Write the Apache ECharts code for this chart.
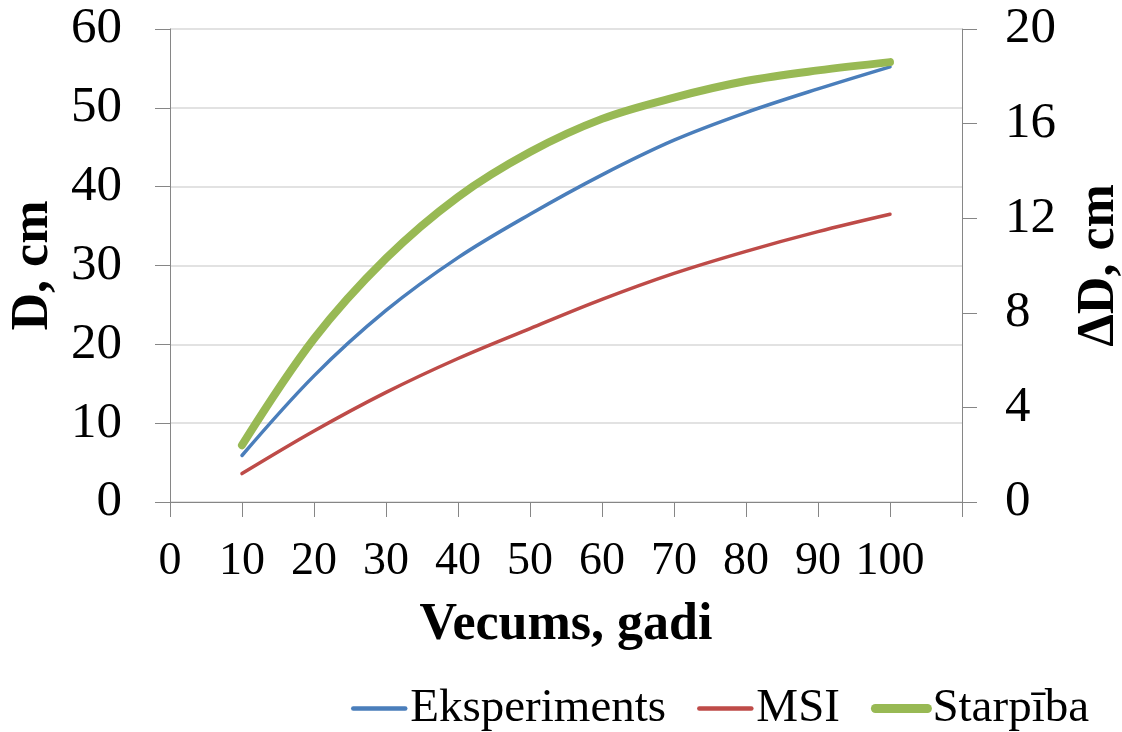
<!DOCTYPE html>
<html>
<head>
<meta charset="utf-8">
<script src="https://cdn.jsdelivr.net/npm/echarts@6/dist/echarts.min.js"></script>
<style>
html,body{margin:0;padding:0;background:#fff;}
#chart{width:1122px;height:732px;}
</style>
</head>
<body>
<div id="chart"></div>
<script>
// Data
const ages = [10, 20, 30, 40, 50, 60, 70, 80, 90, 100];
const eksperiments = [5.9, 16.0, 24.3, 31.0, 36.5, 41.5, 45.9, 49.4, 52.4, 55.2];
const msi = [3.6, 9.0, 13.9, 18.2, 22.0, 25.7, 29.0, 31.8, 34.3, 36.5];
const starpiba = [2.4, 6.9, 10.3, 12.9, 14.8, 16.2, 17.1, 17.8, 18.25, 18.6];
const leftTicks = [0, 60, 10];
const rightTicks = [0, 20, 4];
const xTicks = [0, 110, 10];

const FONT = "'Liberation Serif', 'Times New Roman', serif";
const pairs = (ys) => ages.map((a, i) => [a, ys[i]]);

const chart = echarts.init(document.getElementById('chart'), null, {renderer: 'canvas'});
chart.setOption({
  animation: false,
  backgroundColor: '#ffffff',
  grid: {left: 170, right: 160, top: 29, bottom: 230, containLabel: false, outerBoundsMode: 'none'},
  legend: {
    top: 680,
    left: 346,
    itemGap: 31,
    itemWidth: 52,
    itemHeight: 14,
    textStyle: {fontFamily: FONT, fontSize: 47, color: '#000'},
    data: [
      {name: 'Eksperiments', itemStyle: {opacity: 0}, lineStyle: {width: 4.5, cap: 'round'}},
      {name: 'MSI', itemStyle: {opacity: 0}, lineStyle: {width: 4.5, cap: 'round'}},
      {name: 'Starpība', itemStyle: {opacity: 0}, lineStyle: {width: 9, cap: 'round'}}
    ]
  },
  xAxis: {
    type: 'value',
    min: xTicks[0], max: xTicks[1], interval: xTicks[2],
    name: 'Vecums, gadi',
    nameLocation: 'middle',
    nameGap: 98,
    nameTextStyle: {fontFamily: FONT, fontSize: 52, fontWeight: 'bold', color: '#000'},
    axisLine: {show: true, onZero: false, lineStyle: {color: '#868686', width: 1}},
    axisTick: {show: true, length: 15, lineStyle: {color: '#868686'}},
    axisLabel: {
      fontFamily: FONT, fontSize: 46, color: '#000', margin: 37,
      formatter: (v) => (v > 100 ? '' : String(v))
    },
    splitLine: {show: false}
  },
  yAxis: [
    {
      type: 'value',
      position: 'left',
      min: leftTicks[0], max: leftTicks[1], interval: leftTicks[2],
      name: 'D, cm',
      nameLocation: 'middle',
      nameRotate: 90,
      nameGap: 110,
      nameTextStyle: {fontFamily: FONT, fontSize: 52, fontWeight: 'bold', color: '#000'},
      axisLine: {show: true, lineStyle: {color: '#868686', width: 1}},
      axisTick: {show: true, length: 15, lineStyle: {color: '#868686'}},
      axisLabel: {fontFamily: FONT, fontSize: 51, color: '#000', margin: 48},
      splitLine: {show: true, lineStyle: {color: '#d9d9d9', width: 1.5}}
    },
    {
      type: 'value',
      position: 'right',
      min: rightTicks[0], max: rightTicks[1], interval: rightTicks[2],
      name: 'ΔD, cm',
      nameLocation: 'middle',
      nameRotate: 90,
      nameGap: 112,
      nameTextStyle: {fontFamily: FONT, fontSize: 52, fontWeight: 'bold', color: '#000'},
      axisLine: {show: true, lineStyle: {color: '#868686', width: 1}},
      axisTick: {show: true, length: 15, lineStyle: {color: '#868686'}},
      axisLabel: {fontFamily: FONT, fontSize: 51, color: '#000', margin: 43},
      splitLine: {show: false}
    }
  ],
  series: [
    {
      name: 'Eksperiments', type: 'line', yAxisIndex: 0, smooth: 0.35,
      showSymbol: false, symbol: 'none',
      data: pairs(eksperiments),
      lineStyle: {color: '#4A7EBB', width: 3.5, cap: 'round'},
      itemStyle: {color: '#4A7EBB'}
    },
    {
      name: 'MSI', type: 'line', yAxisIndex: 0, smooth: 0.35,
      showSymbol: false, symbol: 'none',
      data: pairs(msi),
      lineStyle: {color: '#BE4B48', width: 3.5, cap: 'round'},
      itemStyle: {color: '#BE4B48'}
    },
    {
      name: 'Starpība', type: 'line', yAxisIndex: 1, smooth: 0.35,
      showSymbol: false, symbol: 'none',
      data: pairs(starpiba),
      lineStyle: {color: '#98B954', width: 8, cap: 'round'},
      itemStyle: {color: '#98B954'}
    }
  ]
});
</script>
</body>
</html>
